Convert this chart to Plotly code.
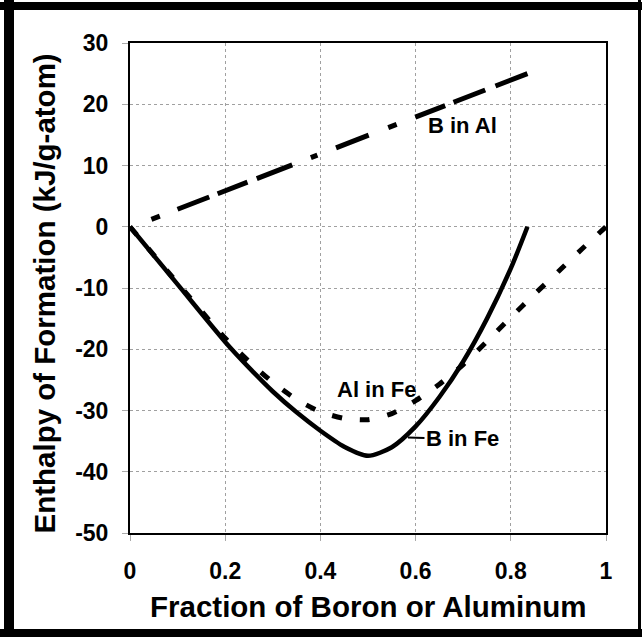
import plotly.graph_objects as go

# ---- data ----
b_in_fe_x = [0, 0.1, 0.2, 0.25, 0.30, 0.35, 0.40, 0.45, 0.50, 0.55, 0.60, 0.65, 0.70, 0.75, 0.80, 0.835]
b_in_fe_y = [0, -9.4, -18.8, -23.0, -26.9, -30.3, -33.3, -35.9, -37.4, -36.0, -32.6, -27.8, -22.0, -15.0, -6.8, 0]

al_in_fe_x = [0, 0.1, 0.2, 0.25, 0.30, 0.35, 0.40, 0.45, 0.50, 0.55, 0.60, 0.65, 0.70, 0.75,
              0.80, 0.85, 0.90, 0.95, 1.0]
al_in_fe_y = [0, -9.2, -18.2, -22.0, -25.4, -28.2, -30.2, -31.3, -31.5, -30.5, -28.4, -25.7, -22.5, -18.7,
              -14.8, -11.0, -7.3, -3.6, 0]

b_in_al_x = [0.045, 0.835]
b_in_al_y = [1.2, 25.0]

x_ticks = [0, 0.2, 0.4, 0.6, 0.8, 1]
x_tick_text = ["0", "0.2", "0.4", "0.6", "0.8", "1"]
y_ticks = [30, 20, 10, 0, -10, -20, -30, -40, -50]
y_tick_text = ["30", "20", "10", "0", "-10", "-20", "-30", "-40", "-50"]

# ---- layout geometry (pixels) ----
W, H = 642, 637
L, R, T, B = 130, 606, 43, 533
FONT = "Liberation Sans, Arial, sans-serif"


def px(p):
    return (p - L) / (R - L)


def py(p):
    return (B - p) / (B - T)


fig = go.Figure()

fig.add_trace(go.Scatter(
    x=b_in_al_x, y=b_in_al_y, mode="lines",
    line=dict(color="black", width=5,
              dash="9px,19px,34px,9px,32px,10px,38px,20px,7px,20px,35px,21px,9px,20px,32px,9px,34px,11px,40px"),
    showlegend=False, hoverinfo="skip"))

fig.add_trace(go.Scatter(
    x=al_in_fe_x, y=al_in_fe_y, mode="lines",
    line=dict(color="black", width=5, dash="10px,18px", shape="spline", smoothing=0.7),
    showlegend=False, hoverinfo="skip"))

fig.add_trace(go.Scatter(
    x=b_in_fe_x, y=b_in_fe_y, mode="lines",
    line=dict(color="black", width=4.5, shape="spline", smoothing=0.7),
    showlegend=False, hoverinfo="skip"))

tick_font = dict(family=FONT, size=23, color="black", weight="bold")
label_font = dict(family=FONT, size=22, color="black", weight="bold")
title_font = dict(family=FONT, size=29.5, color="black", weight="bold")

fig.update_xaxes(
    range=[0, 1], tickvals=x_ticks, ticktext=x_tick_text,
    showgrid=True, gridcolor="#a0a0a0", griddash="dot", gridwidth=1,
    showline=True, linecolor="black", linewidth=2, mirror=True,
    ticks="outside", ticklen=6, tickcolor="#aaaaaa", tickwidth=1,
    ticklabelstandoff=10, tickfont=tick_font, zeroline=False)
fig.update_yaxes(
    range=[-50, 30], tickvals=y_ticks, ticktext=y_tick_text,
    showgrid=True, gridcolor="#a0a0a0", griddash="dot", gridwidth=1,
    showline=True, linecolor="black", linewidth=2, mirror=True,
    ticks="outside", ticklen=6, tickcolor="#aaaaaa", tickwidth=1,
    ticklabelstandoff=9, tickfont=tick_font, zeroline=False)

annotations = [
    dict(x=0.6985, y=16.6, xref="x", yref="y", text="B in Al", showarrow=False, font=label_font),
    dict(x=0.517, y=-26.6, xref="x", yref="y", text="Al in Fe", showarrow=False, font=label_font),
    dict(x=0.584, y=-34.4, xref="x", yref="y", text="B in Fe", showarrow=True,
         arrowhead=0, arrowwidth=2, arrowcolor="black", ax=54.5, ay=1.5, font=label_font),
    dict(x=0.5, y=0, xref="paper", yref="paper", yshift=-(606 - B), text="Fraction of Boron or Aluminum",
         showarrow=False, font=title_font, xanchor="center", yanchor="middle"),
    dict(x=0, y=py(293.5), xref="paper", yref="paper", xshift=-(L - 44), text="Enthalpy of Formation (kJ/g-atom)",
         showarrow=False, font=title_font, textangle=-90, xanchor="center", yanchor="middle"),
]

frame = [(4, 0, 14, 637), (0, 2, 642, 10), (0, 629, 642, 637), (638, 0, 641, 637)]
shapes = [dict(type="rect", xref="paper", yref="paper",
               x0=px(a), x1=px(c), y0=py(d), y1=py(b),
               fillcolor="black", line=dict(width=0), layer="above")
          for (a, b, c, d) in frame]

fig.update_layout(
    width=W, height=H, margin=dict(l=L, r=W - R, t=T, b=H - B, autoexpand=False),
    paper_bgcolor="white", plot_bgcolor="white",
    annotations=annotations, shapes=shapes, showlegend=False)

fig.write_html("out.html", config={"displayModeBar": False},
               post_script="document.body.style.margin='0px';")
